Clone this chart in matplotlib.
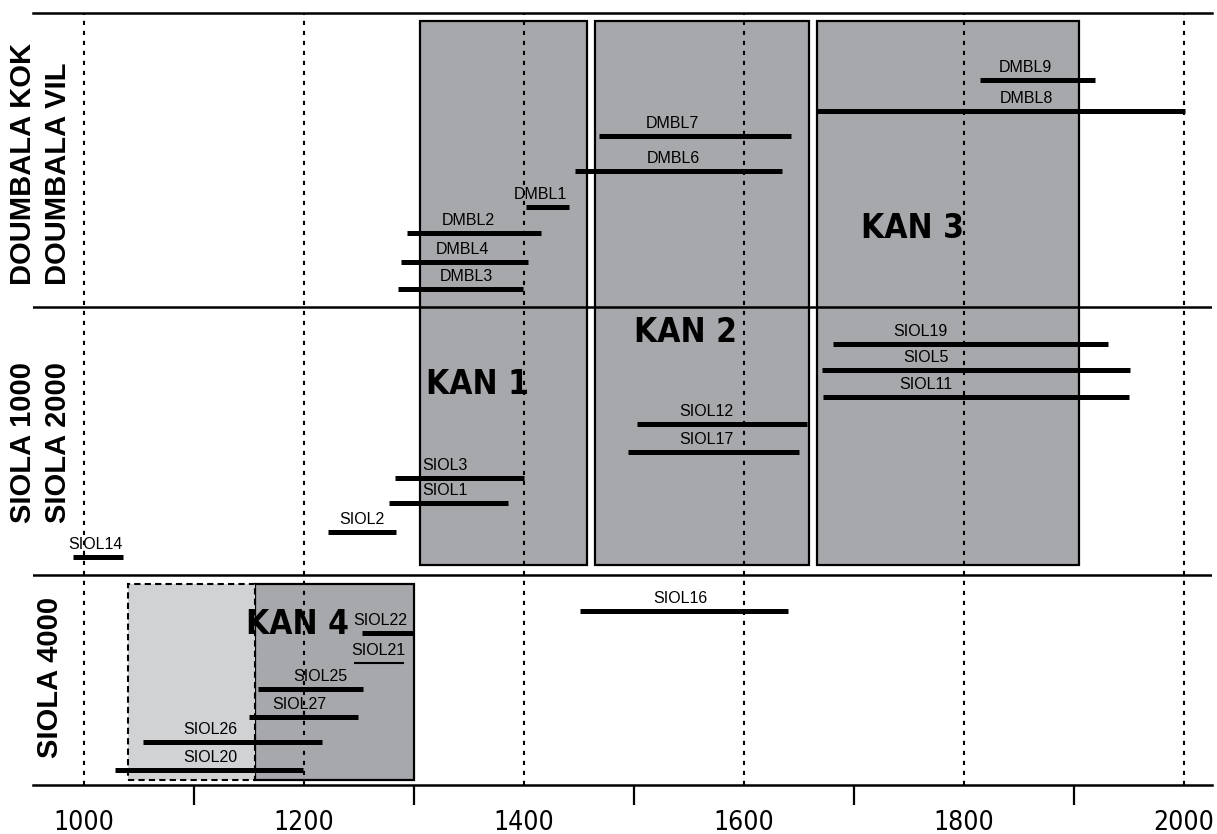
import matplotlib
matplotlib.use("Agg")
import matplotlib.pyplot as plt
from matplotlib import font_manager as fm
from matplotlib.patches import Rectangle

# period boxes (calendar years) and their vertical extent (chart units)
kan_names = ["KAN 1", "KAN 2", "KAN 3", "KAN 4"]
kan_start = [1305, 1465, 1666, 1155]
kan_end = [1457, 1659, 1905, 1300]
kan_bottom = [220, 220, 220, 5]
kan_top = [764, 764, 764, 201]
kan_label_x = [1358, 1547, 1753, 1194]
kan_label_y = [400, 453, 557, 160]

# the lighter, dashed extension of KAN 4
ext_start, ext_end = 1040, 1155

# dated samples: calendar range, lane height, label centre
samples = ["DMBL9", "DMBL8", "DMBL7", "DMBL6", "DMBL1", "DMBL2", "DMBL4", "DMBL3",
           "SIOL19", "SIOL5", "SIOL11", "SIOL12", "SIOL17", "SIOL3", "SIOL1", "SIOL2",
           "SIOL14", "SIOL16", "SIOL22", "SIOL21", "SIOL25", "SIOL27", "SIOL26", "SIOL20"]
start = [1815, 1666, 1468, 1446, 1402, 1294, 1288, 1285,
         1681, 1671, 1672, 1503, 1495, 1283, 1277, 1222,
         990, 1451, 1253, 1245, 1158, 1150, 1054, 1028]
end = [1919, 2001, 1643, 1635, 1441, 1415, 1404, 1399,
       1931, 1951, 1950, 1657, 1650, 1400, 1385, 1284,
       1035, 1640, 1299, 1291, 1254, 1249, 1216, 1199]
lane = [705, 674, 649, 614, 578, 552, 523, 496,
        441, 415, 388, 361, 333, 307, 282, 253,
        228, 174, 152, 122, 96, 68, 43, 15]
label_x = [1856, 1857, 1535, 1536, 1415, 1349, 1344, 1348,
           1760, 1765, 1765, 1566, 1566, 1328, 1328, 1253,
           1010, 1542, 1269, 1268, 1215, 1196, 1115, 1115]
thin = ["SIOL21"]

grid_years = [1000, 1200, 1400, 1600, 1800, 2000]
tick_years = [1100, 1300, 1500, 1700, 1900]
panel_lines = [478, 210]

arial = ["Liberation Sans", "DejaVu Sans"]


def narrow_font(bold):
    # look for a condensed face among the installed fonts
    files = [f.fname for f in fm.fontManager.ttflist]
    for key in ["LiberationSansNarrow", "DejaVuSansCondensed"]:
        for fn in files:
            base = fn.split("/")[-1]
            if not base.startswith(key):
                continue
            is_bold = "Bold" in base
            if is_bold == bold and "Oblique" not in base and "Italic" not in base:
                return fm.FontProperties(fname=fn)
    return fm.FontProperties(family="DejaVu Sans", stretch="condensed",
                             weight="bold" if bold else "normal")


fig = plt.figure(figsize=(12.17, 8.34), dpi=100)
W, H = 1217, 834
ax = fig.add_axes([33 / W, (834 - 785) / H, (1212 - 33) / W, (785 - 13) / H])
ax.set_xlim(953.6, 2025.5)
ax.set_ylim(0, 772)

# gray boxes
for i in range(len(kan_names)):
    ax.add_patch(Rectangle((kan_start[i], kan_bottom[i]), kan_end[i] - kan_start[i],
                           kan_top[i] - kan_bottom[i], facecolor="#a7a8ab",
                           edgecolor="black", lw=1.6, zorder=1))
ax.add_patch(Rectangle((ext_start, kan_bottom[3]), ext_end - ext_start,
                       kan_top[3] - kan_bottom[3], facecolor="#d1d2d4",
                       edgecolor="black", lw=1.5, ls=(0, (3, 2)), zorder=1))

# dotted century lines
for g in grid_years:
    ax.axvline(g, color="black", lw=1.5, ls=(0, (2, 2.8)), zorder=2)

# panel separators
for p in panel_lines:
    ax.axhline(p, color="black", lw=1.8, zorder=3)

# sample ranges
for i, name in enumerate(samples):
    lw = 1.5 if name in thin else 3.6
    ax.plot([start[i], end[i]], [lane[i], lane[i]], color="black", lw=lw,
            solid_capstyle="butt", zorder=4)
    ax.text(label_x[i], lane[i] + 5, name, ha="center", va="bottom",
            fontsize=11.5, family=arial, zorder=5)

kan_fp = narrow_font(True)
kan_fp.set_size(24)
for i, name in enumerate(kan_names):
    ax.text(kan_label_x[i], kan_label_y[i], name, ha="center", va="center",
            fontproperties=kan_fp, zorder=5)

# axes styling
for s in ["left", "right"]:
    ax.spines[s].set_visible(False)
ax.spines["bottom"].set_linewidth(1.8)
ax.spines["top"].set_linewidth(1.8)
ax.set_yticks([])
ax.set_xticks(tick_years)
ax.set_xticklabels([])
ax.tick_params(axis="x", which="major", length=14.4, width=1.6, direction="out")
ax.set_xticks(grid_years, minor=True)
ax.set_xticklabels([str(g) for g in grid_years], minor=True)
ax.tick_params(axis="x", which="minor", length=0, pad=18)
tick_fp = narrow_font(False)
tick_fp.set_size(19)
for lab in ax.get_xticklabels(minor=True):
    lab.set_fontproperties(tick_fp)

# site labels on the left
def side(x, y, s):
    fig.text(x / W, (834 - y) / H, s, rotation=90, ha="center", va="bottom",
             fontsize=21, fontweight="bold", family=arial)

side(23, 285, "DOUMBALA KOK")
side(58, 285, "DOUMBALA VIL")
side(23, 523, "SIOLA 1000")
side(58, 523, "SIOLA 2000")
side(50, 758, "SIOLA 4000")

fig.savefig("out.png", dpi=100)
